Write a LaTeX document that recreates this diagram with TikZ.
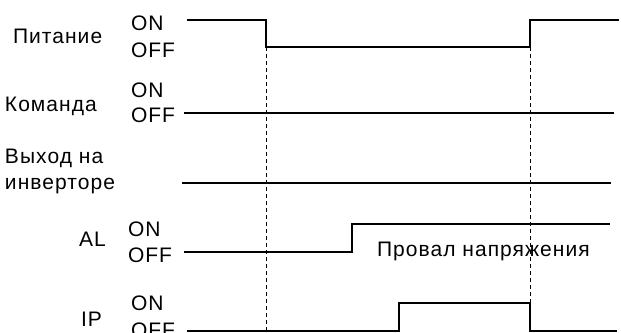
\documentclass[tikz,border=0pt]{standalone}
\usepackage{fontspec}
\setmainfont{Liberation Sans}
\newfontfamily\lblfont[LetterSpace=5]{Liberation Sans}
\begin{document}
\begin{tikzpicture}[x=1pt,y=-1pt,
  lbl/.style={anchor=base west,inner sep=0pt,outer sep=0pt,font=\lblfont\fontsize{21}{25}\selectfont},
  st/.style={lbl},
  sig/.style={line width=2.3pt,line join=miter},
  guide/.style={line width=0.9pt,dash pattern=on 4pt off 3pt}]
\useasboundingbox (0,0) rectangle (621,332);
% labels
\node[lbl] (pit) at (13,43) {Питание};
\node[st] (on1) at (131,30) {ON};
\node[st] (off1) at (131,57) {OFF};
\node[lbl] (kom) at (5,111) {Команда};
\node[st] (on2) at (131,97) {ON};
\node[st] (off2) at (131,122) {OFF};
\node[lbl] (vyh1) at (5,163) {Выход на};
\node[lbl] (vyh2) at (5,189) {инверторе};
\node[lbl] (al) at (79,246) {AL};
\node[st] (on4) at (128,236) {ON};
\node[st] (off4) at (128,262) {OFF};
\node[lbl] (ip) at (81,326) {IP};
\node[st] (on5) at (131,310) {ON};
\node[st] (off5) at (131,337) {OFF};
\node[lbl] (prov) at (377,256) {Провал напряжения};
% guide coordinates
\coordinate (t1) at (266,47);
\coordinate (t1b) at (266,332);
\coordinate (t2) at (530,47);
\coordinate (t2b) at (530,332);
\draw[guide] (t1) -- (t1b);
\draw[guide] (t2) -- (t2b);
% signals
\draw[sig] (187,20) -- (266,20) -- (t1) -- (530,47) -- (530,20) -- (619,20);
\draw[sig] (184,113) -- (614,113);
\draw[sig] (182,183) -- (611,183);
\draw[sig] (184,252) -- (352,252) -- (352,224) -- (610,224);
\draw[sig] (187,331) -- (399,331) -- (399,303) -- (530,303) -- (530,331) -- (617,331);
\end{tikzpicture}
\end{document}
